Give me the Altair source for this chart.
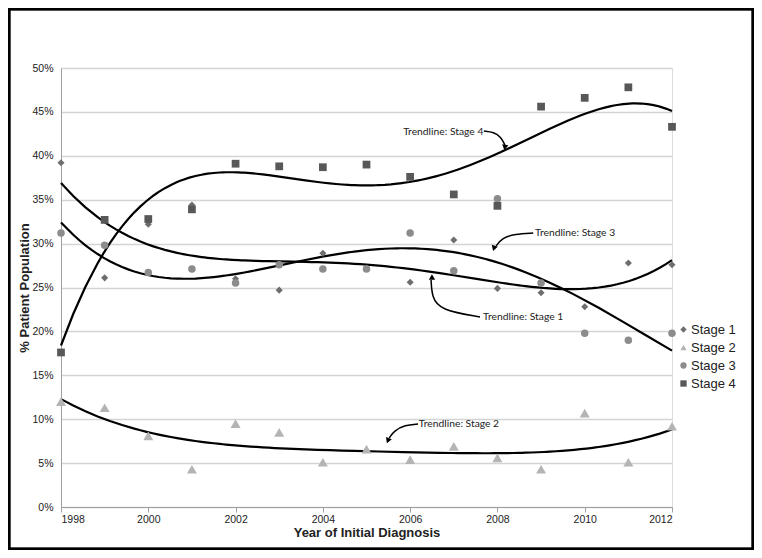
import altair as alt
import pandas as pd

years = list(range(1998, 2013))
stage1 = [39.2, 26.1, 32.2, 34.4, 26.0, 24.7, 28.9, 27.2, 25.6, 30.4, 24.9, 24.4, 22.8, 27.8, 27.6]
stage2 = [12.0, 11.3, 8.1, 4.3, 9.5, 8.5, 5.1, 6.6, 5.4, 6.9, 5.6, 4.3, 10.7, 5.1, 9.2]
stage3 = [31.2, 29.8, 26.7, 27.1, 25.5, 27.6, 27.1, 27.1, 31.2, 26.9, 35.1, 25.5, 19.8, 19.0, 19.8]
stage4 = [17.6, 32.7, 32.8, 33.9, 39.1, 38.8, 38.7, 39.0, 37.6, 35.6, 34.3, 45.6, 46.6, 47.8, 43.3]

stages = ["Stage 1", "Stage 2", "Stage 3", "Stage 4"]
colors = ["#6e6e6e", "#b4b4b4", "#8c8c8c", "#585858"]
shapes = ["diamond", "triangle-up", "circle", "square"]
size_expr = ("datum.stage === 'Stage 1' ? 50 : datum.stage === 'Stage 2' ? 100 : "
             "datum.stage === 'Stage 3' ? 56 : 60")

rows = []
for name, vals in zip(stages, [stage1, stage2, stage3, stage4]):
    for yr, v in zip(years, vals):
        rows.append({"year": yr, "pct": v, "stage": name})
df = pd.DataFrame(rows)

# annotation labels (data coordinates)
ann_text = ["Trendline: Stage 4", "Trendline: Stage 3", "Trendline: Stage 1", "Trendline: Stage 2"]
ann_x = [2005.84, 2008.86, 2007.67, 2006.20]
ann_y = [42.71, 31.21, 21.64, 9.45]

# connector paths (data coordinates)
con_id = [4, 4, 4, 4, 3, 3, 3, 3, 1, 1, 1, 1, 2, 2, 2, 2]
con_x = [2007.69, 2007.92, 2008.08, 2008.17,
         2008.82, 2008.40, 2008.11, 2007.97,
         2007.60, 2006.68, 2006.50, 2006.48,
         2006.18, 2005.88, 2005.63, 2005.52]
con_y = [42.82, 42.71, 42.14, 41.23,
         31.21, 31.09, 30.64, 29.73,
         21.64, 22.44, 23.92, 25.85,
         9.45, 9.34, 8.66, 7.86]
con_order = [0, 1, 2, 3] * 4

head_x = [2008.17, 2007.92, 2006.50, 2005.49]
head_y = [40.95, 29.45, 26.2, 7.55]
head_angle = [8, 18, 180, 22]

xscale = alt.Scale(domain=[1998, 2012], nice=False, zero=False)
yscale = alt.Scale(domain=[0, 50], nice=False)

base = alt.Chart(df)

points = base.transform_calculate(sz=size_expr).mark_point(filled=True, opacity=1).encode(
    x=alt.X("year:Q", scale=xscale,
            axis=alt.Axis(title="Year of Initial Diagnosis", values=list(range(1998, 2013, 2)),
                          format="d", grid=False, tickSize=5, tickColor="#a0a0a0",
                          domainColor="#a0a0a0", labelFont="Liberation Sans", labelFontSize=10.5,
                          labelColor="#222222", labelPadding=2,
                          titleFont="Liberation Sans", titleFontSize=13, titleFontWeight="bold",
                          titleColor="#222222", titlePadding=2)),
    y=alt.Y("pct:Q", scale=yscale,
            axis=alt.Axis(title="% Patient Population", values=list(range(0, 51, 5)),
                          labelExpr="datum.value + '%'", grid=True, gridColor="#d4d4d4",
                          gridWidth=1.5, ticks=False, domainColor="#a0a0a0",
                          labelFont="Liberation Sans", labelFontSize=10.5, labelColor="#222222",
                          labelPadding=8, titleFont="Liberation Sans", titleFontSize=13,
                          titleFontWeight="bold", titleColor="#222222", titlePadding=0)),
    color=alt.Color("stage:N", scale=alt.Scale(domain=stages, range=colors),
                    legend=alt.Legend(title=None, orient="none", legendX=616, legendY=255,
                                      labelFont="Liberation Sans", labelFontSize=13,
                                      labelColor="#222222", symbolSize=40, rowPadding=4,
                                      labelOffset=1)),
    shape=alt.Shape("stage:N", scale=alt.Scale(domain=stages, range=shapes)),
    size=alt.Size("sz:Q", scale=None, legend=None),
)

trend = base.transform_regression(
    "year", "pct", method="poly", order=4, groupby=["stage"]
).mark_line(color="black", strokeWidth=2.2).encode(
    x=alt.X("year:Q", scale=xscale),
    y=alt.Y("pct:Q", scale=yscale),
    detail="stage:N",
)

ann_df = pd.DataFrame({"text": ann_text, "x": ann_x, "y": ann_y})
labels = alt.Chart(ann_df).mark_text(align="left", baseline="middle", font="Lato",
                                     fontSize=10.3, color="#222222").encode(
    x=alt.X("x:Q", scale=xscale), y=alt.Y("y:Q", scale=yscale), text="text:N")

con_df = pd.DataFrame({"id": con_id, "x": con_x, "y": con_y, "o": con_order})
connectors = alt.Chart(con_df).mark_line(color="black", strokeWidth=1.5, interpolate="basis").encode(
    x=alt.X("x:Q", scale=xscale), y=alt.Y("y:Q", scale=yscale), detail="id:N", order="o:Q")

head_df = pd.DataFrame({"x": head_x, "y": head_y, "a": head_angle})
heads = alt.Chart(head_df).mark_point(shape="triangle-down", filled=True, color="black",
                                      size=40, opacity=1).encode(
    x=alt.X("x:Q", scale=xscale), y=alt.Y("y:Q", scale=yscale),
    angle=alt.Angle("a:Q", scale=None))

frame = alt.Chart(ann_df).mark_rect(filled=False, stroke="black", strokeWidth=2.5).encode(
    x=alt.value(-52), x2=alt.value(692), y=alt.value(-59), y2=alt.value(481))

chart = alt.layer(frame, trend, points, connectors, heads, labels).properties(
    width=611, height=439,
    autosize=alt.AutoSizeParams(type="none"),
    padding={"left": 53, "top": 60, "right": 82, "bottom": 43},
).configure_view(stroke="#c0c0c0", strokeWidth=1.5).configure(background="white")

chart.save("out.html", embed_options={"renderer": "svg", "actions": False})
